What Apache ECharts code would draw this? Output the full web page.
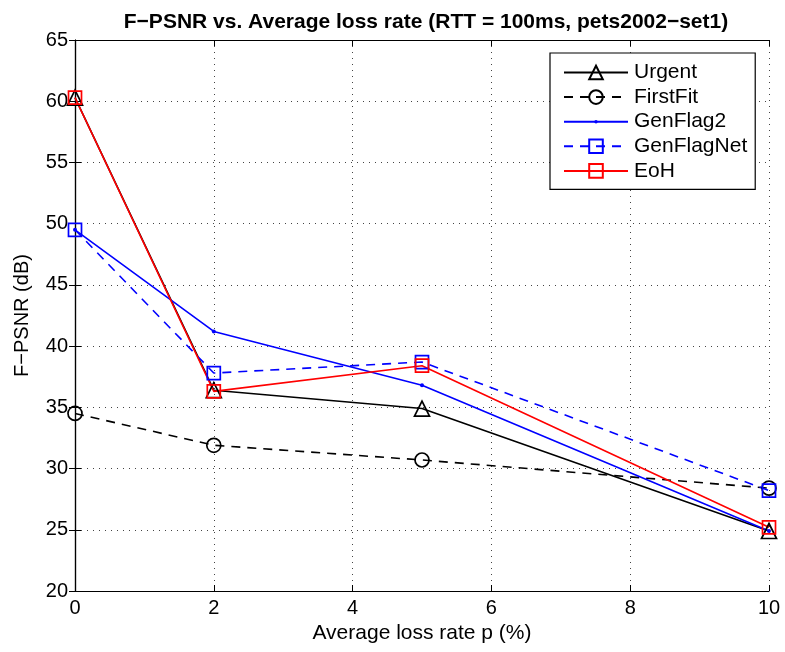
<!DOCTYPE html>
<html><head><meta charset="utf-8">
<script src="https://cdn.jsdelivr.net/npm/echarts@6/dist/echarts.min.js"></script>
<style>html,body{margin:0;padding:0;background:#fff}#c{width:785px;height:652px}</style>
</head><body><div id="c"></div>
<script>
const xValues = [0, 2, 5, 10];
const urgent = [60.3, 36.4, 34.9, 24.9];
const firstFit = [34.5, 31.9, 30.7, 28.4];
const genFlag2 = [49.5, 41.2, 36.8, 24.9];
const genFlagNet = [49.5, 37.8, 38.7, 28.2];
const eoh = [60.3, 36.3, 38.4, 25.2];
const seriesNames = ['Urgent', 'FirstFit', 'GenFlag2', 'GenFlagNet', 'EoH'];

const FONT = 'Liberation Sans';
const pair = vals => xValues.map((x, i) => [x, vals[i]]);
const DOT = 'path://M0,0 M16,16 M6,8 A2,2 0 1 1 10,8 A2,2 0 1 1 6,8 Z';

function mk(name, vals, color, dashed, symbol, size, filled) {
  return {
    name, type: 'line', data: pair(vals), symbol, symbolSize: size,
    lineStyle: { color, width: 1.6, type: dashed ? [9, 7] : 'solid' },
    itemStyle: filled
      ? { color, borderWidth: 0 }
      : { color: 'rgba(255,255,255,0)', borderColor: color, borderWidth: 1.7 },
    emphasis: { disabled: true }, animation: false, z: 3
  };
}

const chart = echarts.init(document.getElementById('c'), null, { renderer: 'canvas' });
const axisCommon = {
  axisLine: { show: true, onZero: false, lineStyle: { color: '#000', width: 1.2 } },
  axisTick: { show: true, inside: true, length: 6, lineStyle: { color: '#000' } },
  splitLine: { show: true, lineStyle: { color: '#444', type: [1, 5], width: 1 } },
  axisLabel: { color: '#000', fontFamily: FONT, fontSize: 20 }
};
chart.setOption({
  animation: false,
  title: {
    text: 'F\u2212PSNR vs. Average loss rate (RTT = 100ms, pets2002\u2212set1)',
    left: 421, textAlign: 'center', top: 7,
    textStyle: { fontFamily: FONT, fontWeight: 'bold', fontSize: 21, color: '#000' }
  },
  grid: { left: 75, right: 16, top: 40, bottom: 61 },
  legend: {
    data: seriesNames, orient: 'vertical', left: 550, top: 53,
    backgroundColor: '#fff', borderColor: '#000', borderWidth: 1.2,
    padding: [9, 8, 8, 13], itemGap: 3.6, itemWidth: 64, itemHeight: 17,
    textStyle: { fontFamily: FONT, fontSize: 21, color: '#000', padding: [0, 0, 0, 1] }
  },
  xAxis: [
    Object.assign({}, axisCommon, {
      type: 'value', min: 0, max: 10, interval: 2,
      name: 'Average loss rate p (%)', nameLocation: 'middle', nameGap: 31,
      nameTextStyle: { fontFamily: FONT, fontSize: 21, color: '#000' },
      axisLabel: Object.assign({}, axisCommon.axisLabel, { margin: 7 })
    }),
    { type: 'value', min: 0, max: 10, interval: 2, position: 'top',
      axisLine: { show: true, lineStyle: { color: '#000', width: 1.2 } },
      axisTick: { show: true, inside: true, length: 6, lineStyle: { color: '#000' } },
      axisLabel: { show: false }, splitLine: { show: false } }
  ],
  yAxis: [
    Object.assign({}, axisCommon, {
      type: 'value', min: 20, max: 65, interval: 5,
      name: 'F\u2212PSNR (dB)', nameLocation: 'middle', nameGap: 43,
      nameTextStyle: { fontFamily: FONT, fontSize: 20, color: '#000' },
      axisLabel: Object.assign({}, axisCommon.axisLabel, { margin: 7 })
    }),
    { type: 'value', min: 20, max: 65, interval: 5, position: 'right',
      axisLine: { show: true, lineStyle: { color: '#000', width: 1.2 } },
      axisTick: { show: true, inside: true, length: 6, lineStyle: { color: '#000' } },
      axisLabel: { show: false }, splitLine: { show: false } }
  ],
  series: [
    mk('Urgent', urgent, '#000', false, 'triangle', 15, false),
    mk('FirstFit', firstFit, '#000', true, 'circle', 14, false),
    mk('GenFlag2', genFlag2, '#0000ff', false, DOT, 16, true),
    mk('GenFlagNet', genFlagNet, '#0000ff', true, 'rect', 13, false),
    mk('EoH', eoh, '#ff0000', false, 'rect', 13, false)
  ]
});
</script></body></html>
